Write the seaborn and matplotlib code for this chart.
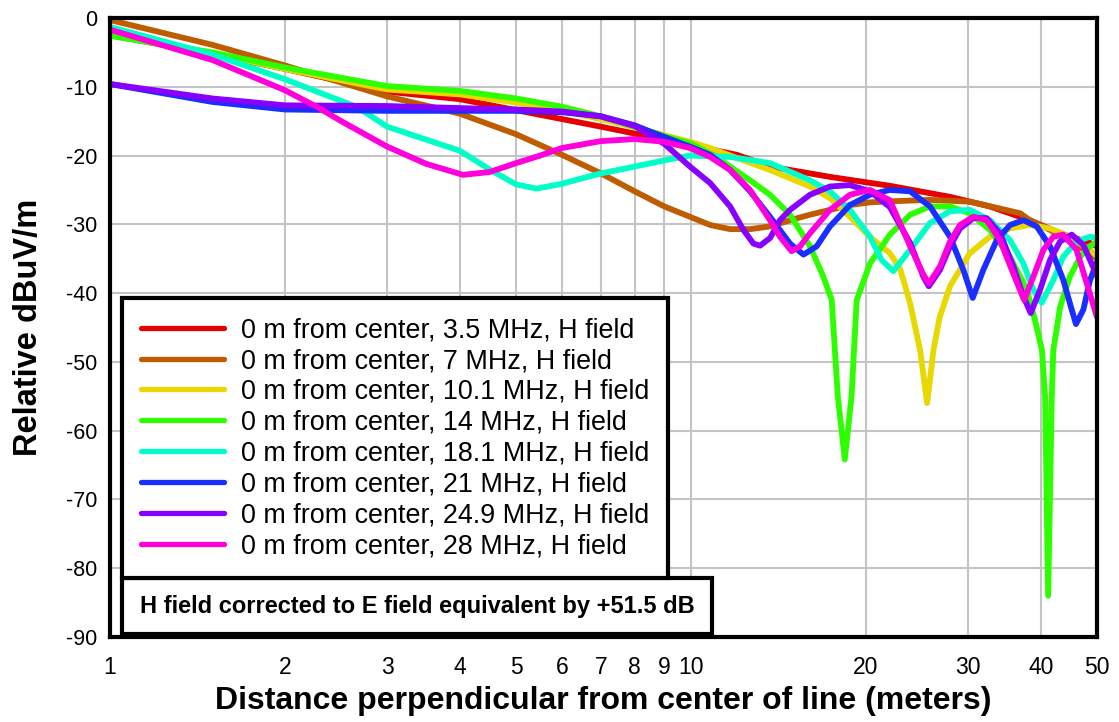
import matplotlib
matplotlib.use("Agg")
import matplotlib.pyplot as plt
import seaborn as sns
import pandas as pd
from matplotlib.patches import Rectangle
from matplotlib.ticker import FixedLocator, NullLocator

# distance (m) / relative level (dBuV/m)
x_35 = [1, 1.5, 2, 3, 4, 5, 6, 7, 8, 9, 10, 12, 13.7, 17.35, 22, 27.9, 32.7, 38.3, 43.2, 48.6, 50]
y_35 = [-2.5, -5.2, -7.4, -10.7, -11.8, -13.4, -14.7, -15.8, -16.8, -17.6, -18.5, -19.9, -21.6, -23.1,
        -24.4, -26.0, -27.4, -29.4, -31.3, -32.7, -33.2]

x_7 = [1, 1.5, 2, 3, 4, 5, 6, 7, 8, 9, 9.96, 10.79, 11.68, 12.64, 13.68, 14.81, 16.03, 17.35, 18.78,
       20.33, 22.9, 25.8, 30.2, 34, 36.9, 38.3, 41.5, 44.9, 48.6, 50]
y_7 = [-0.3, -3.9, -6.9, -11.4, -13.9, -16.9, -19.9, -22.6, -25.2, -27.4, -28.9, -30.1, -30.7, -30.7,
       -30.3, -29.4, -28.6, -27.9, -27.2, -26.8, -26.6, -26.45, -26.7, -27.7, -28.4, -29.4, -30.8, -32.5,
       -34.2, -35.0]

x_101 = [1, 1.5, 2, 3, 4, 5, 6, 7, 8, 9.96, 10.79, 11.68, 13.68, 16.03, 17.35, 18.78, 20.33, 22.0, 22.9,
         23.84, 24.8, 25.5, 26.15, 26.8, 27.92, 30.2, 32.7, 35.4, 38.3, 41.5, 44.9, 48.6, 50]
y_101 = [-2.5, -5.1, -7.4, -10.4, -11.1, -12.3, -13.5, -14.7, -15.9, -18.0, -18.9, -20.0, -22.1, -24.5,
         -26.2, -28.9, -31.8, -34.2, -36.4, -41.5, -48.3, -56, -48.3, -43.5, -39, -34.2, -31.8, -30.6,
         -30.1, -30.6, -31.8, -33.7, -34.6]

x_14 = [1, 1.5, 2, 3, 4, 5, 6, 7, 8, 9, 9.96, 10.79, 11.68, 12.64, 13.68, 14.81, 16.03, 16.9, 17.47, 17.9,
        18.4, 18.9, 19.29, 20.33, 22.0, 23.84, 25.8, 27.92, 30.2, 32.7, 35.4, 37.85, 39.1, 40.2, 40.7,
        41.2, 41.8, 42.05, 42.6, 43.2, 44.9, 46.8, 48.6, 50]
y_14 = [-2.6, -5.0, -7.2, -9.9, -10.6, -11.7, -12.9, -14.3, -15.8, -17.2, -18.2, -19.7, -21.6, -23.6,
        -25.7, -28.6, -33.2, -37.6, -41, -55, -64.2, -55, -41, -35.7, -31.5, -28.6, -27.4, -27.4, -28.4,
        -30.8, -34.7, -39.5, -43.9, -48.3, -55, -84, -55, -48.3, -45.3, -42, -37.6, -34.7, -33.2, -32.5]

x_181 = [1, 1.5, 2, 2.67, 3, 4, 4.5, 5, 5.43, 6, 6.5, 7, 8, 9, 9.96, 11.68, 13.68, 16.03, 17.35, 18.78,
         20.33, 21.3, 22.3, 23.84, 25.79, 27.92, 30.22, 32.72, 35.42, 37.35, 38.86, 40.17, 42.05, 43.75,
         46.1, 48.64, 50]
y_181 = [-1.3, -5.3, -8.9, -13, -15.8, -19.3, -22.0, -24.2, -24.8, -24.1, -23.3, -22.6, -21.6, -20.7,
         -20.0, -20.2, -21.1, -23.6, -25.2, -27.9, -31.8, -35.2, -36.8, -33.7, -29.8, -28.1, -27.9, -29.4,
         -32.3, -35.7, -39.5, -41.4, -38.1, -34.7, -32.5, -31.8, -32.0]

x_21 = [1, 1.5, 2, 3, 4, 5, 6, 7, 8, 8.5, 9.96, 10.79, 11.68, 12.64, 13.68, 14.81, 15.62, 16.46, 17.35,
        18.78, 20.33, 22.0, 23.84, 25.79, 27.92, 29.43, 30.55, 31.87, 33.6, 35.42, 37.35, 39.37, 41.5,
        43.75, 45.23, 46.0, 47.37, 48.64, 50]
y_21 = [-9.6, -12.2, -13.3, -13.5, -13.5, -13.5, -13.7, -14.3, -15.6, -16.5, -18.7, -19.9, -22.1, -25.2,
        -28.9, -32.8, -34.4, -33.2, -30.3, -27.2, -25.7, -25.0, -25.2, -27.4, -31.8, -36.6, -40.7, -36.6,
        -32.3, -30.1, -29.4, -30.3, -33.2, -38.1, -42.4, -44.5, -42.4, -38.1, -35.5]

x_249 = [1, 1.5, 2, 3, 4, 5, 6, 7, 8, 9, 9.96, 10.79, 11.68, 12.31, 12.81, 13.15, 13.68, 14.23, 14.81,
         16.03, 17.35, 18.78, 20.33, 22.0, 23.84, 25.12, 25.67, 26.84, 27.92, 29.05, 30.63, 32.28, 34.04,
         35.89, 37.35, 38.45, 39.9, 41.5, 43.19, 45.23, 47.37, 50]
y_249 = [-9.6, -11.7, -12.7, -12.8, -13.1, -13.3, -13.6, -14.3, -15.7, -18.3, -21.6, -24.0, -27.4, -30.8,
         -32.8, -33.1, -32.0, -29.4, -27.9, -25.7, -24.5, -24.3, -25.2, -27.5, -32.7, -37.6, -39.0, -36.6,
         -33.2, -30.6, -29.1, -29.1, -31.3, -36.1, -40.5, -42.9, -39.5, -35.2, -32.5, -31.5, -33.0, -37.5]

x_28 = [1, 1.5, 2, 2.28, 2.5, 3, 3.5, 4.05, 4.5, 5, 5.5, 6, 7, 8, 9, 9.96, 10.79, 11.68, 12.64, 13.68,
        14.23, 14.9, 15.41, 16.03, 17.35, 18.78, 20.33, 22.0, 23.84, 25.12, 25.67, 26.84, 27.92, 29.05,
        30.63, 32.28, 34.04, 35.66, 37.45, 38.86, 40.44, 42.05, 43.75, 46.1, 48.02, 50]
y_28 = [-1.7, -6.1, -10.5, -13, -15.0, -18.7, -21.2, -22.8, -22.4, -21.1, -20.0, -18.9, -17.9, -17.6,
        -18.0, -18.9, -20.2, -22.1, -25.0, -29.4, -31.8, -33.9, -33.2, -31.3, -27.9, -25.7, -25.0, -26.5,
        -33.2, -37.3, -38.6, -36.1, -32.5, -30.1, -28.9, -29.4, -32.3, -36.6, -41.0, -37.6, -33.7, -31.8,
        -31.5, -33.7, -38.6, -43.5]

labels = [
    "0 m from center, 3.5 MHz, H field",
    "0 m from center, 7 MHz, H field",
    "0 m from center, 10.1 MHz, H field",
    "0 m from center, 14 MHz, H field",
    "0 m from center, 18.1 MHz, H field",
    "0 m from center, 21 MHz, H field",
    "0 m from center, 24.9 MHz, H field",
    "0 m from center, 28 MHz, H field",
]
colors = ["#e60000", "#c05c00", "#e8d800", "#2eff00", "#00ffc8", "#1a2eff", "#8800ff", "#ff00dd"]

x_ticks = [1, 2, 3, 4, 5, 6, 7, 8, 9, 10, 20, 30, 40, 50]
y_ticks = [0, -10, -20, -30, -40, -50, -60, -70, -80, -90]

series = [(x_35, y_35), (x_7, y_7), (x_101, y_101), (x_14, y_14),
          (x_181, y_181), (x_21, y_21), (x_249, y_249), (x_28, y_28)]
frames = []
for lab, (xs, ys) in zip(labels, series):
    frames.append(pd.DataFrame({"dist": xs, "level": ys, "series": lab}))
df = pd.concat(frames, ignore_index=True)

sns.set_style("white")
plt.rcParams["font.family"] = ["Liberation Sans", "DejaVu Sans"]
plt.rcParams["axes.unicode_minus"] = False
for key in ["text.color", "axes.labelcolor", "xtick.color", "ytick.color"]:
    plt.rcParams[key] = "black"

fig = plt.figure(figsize=(11.19, 7.22), dpi=100)
ax = fig.add_axes([110 / 1119, 85 / 722, 987 / 1119, 619 / 722])

sns.lineplot(data=df, x="dist", y="level", hue="series", hue_order=labels,
             palette=colors, estimator=None, sort=False, linewidth=4.2,
             solid_capstyle="round", solid_joinstyle="round", ax=ax, legend=False)

ax.set_xscale("log")
ax.set_xlim(1, 50)
ax.set_ylim(-90, 0)
ax.xaxis.set_major_locator(FixedLocator(x_ticks))
ax.xaxis.set_minor_locator(NullLocator())
ax.set_xticklabels([str(t) for t in x_ticks])
ax.set_yticks(y_ticks)
ax.set_yticklabels([str(t) for t in y_ticks])
ax.tick_params(axis="both", length=0)
ax.tick_params(axis="x", pad=14, labelsize=16.5)
ax.tick_params(axis="y", pad=9, labelsize=15.5)
ax.grid(True, color="#c4c4c4", linewidth=1.5)
ax.set_axisbelow(True)
for sp in ax.spines.values():
    sp.set_linewidth(3)
    sp.set_color("black")

ax.set_xlabel("Distance perpendicular from center of line (meters)", fontsize=23,
              fontweight="bold", labelpad=5)
ax.set_ylabel("Relative dBuV/m", fontsize=23.5, fontweight="bold", labelpad=16)

handles = [plt.Line2D([], [], color=c, linewidth=3.8, solid_capstyle="round") for c in colors]
leg = ax.legend(handles, labels, loc="lower left", bbox_to_anchor=(12 / 987, 59 / 619),
                borderaxespad=0, fontsize=19.4, handlelength=3.1, handletextpad=0.6,
                labelspacing=0.18, borderpad=0.7, fancybox=False, framealpha=1,
                edgecolor="black")
leg.get_frame().set_linewidth(3)

# note box under the legend
ax.add_patch(Rectangle((12 / 987, 3 / 619), 590 / 987, 56 / 619, transform=ax.transAxes,
                       facecolor="white", edgecolor="black", linewidth=3, zorder=5))
ax.text(307 / 987, 31 / 619, "H field corrected to E field equivalent by +51.5 dB",
        transform=ax.transAxes, ha="center", va="center", fontsize=17,
        fontweight="bold", zorder=6)

fig.savefig("out.png", dpi=100)
